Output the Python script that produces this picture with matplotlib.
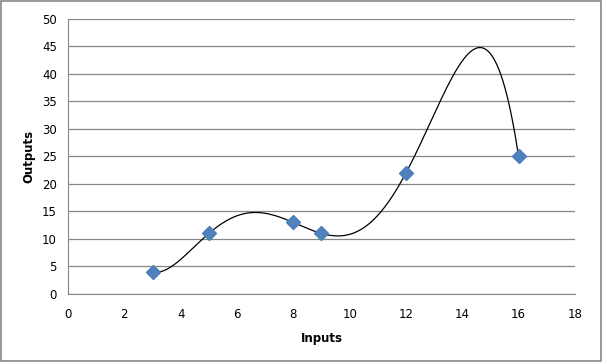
import numpy as np
import matplotlib
matplotlib.use("Agg")
import matplotlib.pyplot as plt

inputs = [3, 5, 8, 9, 12, 16]
outputs = [4, 11, 13, 11, 22, 25]
x_ticks = [0, 2, 4, 6, 8, 10, 12, 14, 16, 18]
y_ticks = [0, 5, 10, 15, 20, 25, 30, 35, 40, 45, 50]

plt.rcParams['font.family'] = ['DejaVu Sans']

fig = plt.figure(figsize=(6.02, 3.62), dpi=100)
fig.patches.append(plt.Rectangle((0.0015, 0.0025), 0.997, 0.995, transform=fig.transFigure,
                                 fill=False, edgecolor='#868686', linewidth=1.2))
ax = fig.add_axes([0.113, 0.188, 0.842, 0.7595])

# smooth curve: polynomial passing through the points
coef = np.polyfit(inputs, outputs, len(inputs) - 1)
xs = np.linspace(min(inputs), max(inputs), 400)
ax.plot(xs, np.polyval(coef, xs), color='black', linewidth=0.9, zorder=2)
ax.plot(inputs, outputs, linestyle='none', marker='D', markersize=7.5,
        color='#4F81BD', markeredgecolor='#4A7EBB', zorder=3)

ax.set_xlim(0, 18)
ax.set_ylim(0, 50)
ax.set_xticks(x_ticks)
ax.set_yticks(y_ticks)
ax.yaxis.grid(True, color='#868686', linewidth=0.9)
ax.set_axisbelow(True)
for side in ['top', 'right']:
    ax.spines[side].set_visible(False)
for side in ['left', 'bottom']:
    ax.spines[side].set_color('#868686')
ax.tick_params(axis='x', length=0, labelsize=8.5, pad=10)
ax.tick_params(axis='y', length=0, labelsize=8.5, pad=8)
ax.set_xlabel("Inputs", fontsize=8.5, fontweight='bold', labelpad=8)
ax.set_ylabel("Outputs", fontsize=8.5, fontweight='bold', labelpad=5)

fig.savefig("out.png", dpi=100)
